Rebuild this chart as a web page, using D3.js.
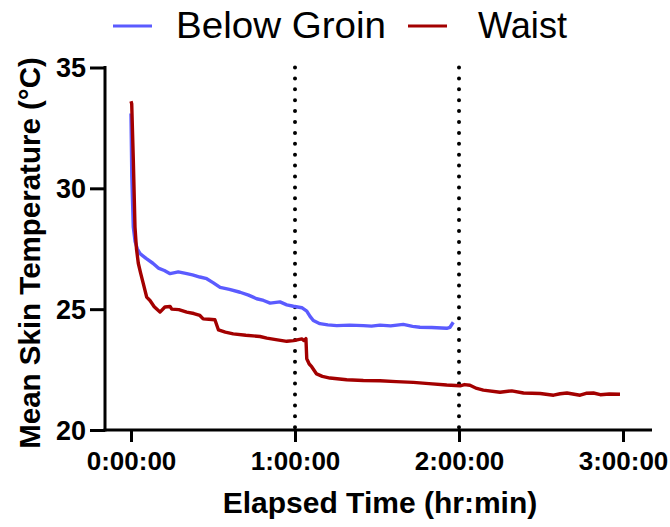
<!DOCTYPE html>
<html>
<head>
<meta charset="utf-8">
<script src="https://cdn.jsdelivr.net/npm/d3@7"></script>
<style>
  html, body { margin: 0; padding: 0; background: #fff; }
  svg { display: block; }
  text { font-family: Arial, "Liberation Sans", sans-serif; }
</style>
</head>
<body>
<svg id="chart" width="670" height="527"></svg>
<script>
// ---- data (elapsed minutes, mean skin temperature °C) ----
const seriesNames = ["Below Groin", "Waist"];
const seriesColors = ["#5b5bff", "#a30000"];

const timeBelowGroin = [0, 0.3, 0.84, 1.5, 2.3, 3.3, 5.5, 8, 10.0, 12.2, 14.3, 17.3, 20, 22.5, 25.2, 27.7, 30, 32.6, 36, 39.9, 43, 46.0, 48.5, 50.9, 54.5, 57, 59.4, 62.5, 64.3, 65.5, 66.7, 69.1, 72, 75.3, 80, 85.0, 88, 91.1, 95, 99.6, 103, 105.7, 110, 115.5, 116.7, 117.9];
const tempBelowGroin = [33.1, 30.5, 28.4, 27.8, 27.5, 27.3, 27.1, 26.9, 26.7, 26.6, 26.47, 26.54, 26.48, 26.42, 26.33, 26.26, 26.1, 25.9, 25.82, 25.7, 25.58, 25.43, 25.36, 25.25, 25.3, 25.18, 25.12, 25.06, 24.92, 24.7, 24.53, 24.4, 24.35, 24.32, 24.34, 24.32, 24.3, 24.34, 24.31, 24.37, 24.29, 24.25, 24.24, 24.21, 24.25, 24.46];

const timeWaist = [0, 0.26, 0.84, 1.46, 2.0, 2.67, 3.5, 4.5, 5.74, 6.95, 8.5, 10.6, 12.4, 14.3, 14.9, 17.5, 20.4, 23, 25.2, 26.4, 28.5, 30.7, 32.0, 34.5, 37.4, 42, 47.2, 49.7, 53, 57.0, 59.5, 62.5, 63.3, 64.0, 64.3, 65.2, 66.1, 67.9, 70, 72.8, 78.9, 85, 91.1, 97, 103.3, 109, 115.5, 120.4, 122, 124.0, 126.5, 128.9, 135.0, 139.3, 143.6, 149.7, 154.6, 157, 159.5, 164.3, 166.5, 169.2, 171.7, 175, 178.9];
const tempWaist = [33.6, 33.5, 31.2, 28.4, 27.5, 26.9, 26.5, 26.06, 25.5, 25.36, 25.1, 24.88, 25.09, 25.11, 25.0, 24.98, 24.88, 24.82, 24.74, 24.6, 24.58, 24.56, 24.14, 24.05, 23.98, 23.92, 23.87, 23.8, 23.74, 23.67, 23.7, 23.77, 23.7, 23.78, 22.95, 22.73, 22.62, 22.32, 22.22, 22.15, 22.08, 22.05, 22.04, 22.0, 21.97, 21.92, 21.86, 21.83, 21.88, 21.85, 21.72, 21.65, 21.56, 21.62, 21.53, 21.51, 21.44, 21.5, 21.53, 21.44, 21.52, 21.53, 21.46, 21.49, 21.48];

const xTickValues = [0, 60, 120, 180];
const xTickLabels = ["0:00:00", "1:00:00", "2:00:00", "3:00:00"];
const yTickValues = [20, 25, 30, 35];
const phaseMarkers = [60, 120];

const xTitle = "Elapsed Time (hr:min)";
const yTitle = "Mean Skin Temperature (°C)";

// ---- layout ----
const svg = d3.select("#chart");
const x = d3.scaleLinear().domain([0, 180]).range([131, 623]);
const y = d3.scaleLinear().domain([20, 35]).range([430, 67.5]);
const axisLeftX = 105;
const axisBottomY = 430;

// dotted phase markers
svg.append("g").selectAll("line").data(phaseMarkers).join("line")
  .attr("x1", d => x(d)).attr("x2", d => x(d))
  .attr("y1", y(35)).attr("y2", axisBottomY)
  .attr("stroke", "#000").attr("stroke-width", 4)
  .attr("stroke-linecap", "round")
  .attr("stroke-dasharray", "0 10.9");

// lines
const series = [
  { t: timeBelowGroin, v: tempBelowGroin },
  { t: timeWaist, v: tempWaist }
];
const line = d3.line().x(d => x(d[0])).y(d => y(d[1])).curve(d3.curveLinear);
series.forEach((s, i) => {
  svg.append("path")
    .datum(s.t.map((t, j) => [t, s.v[j]]))
    .attr("d", line)
    .attr("fill", "none")
    .attr("stroke", seriesColors[i])
    .attr("stroke-width", 3.4)
    .attr("stroke-linejoin", "round");
});

// y axis
const yAxis = d3.axisLeft(y).tickValues(yTickValues).tickSize(15).tickPadding(4).tickFormat(d3.format("d"));
const gy = svg.append("g").attr("transform", `translate(${axisLeftX},0)`).call(yAxis);
gy.select(".domain").remove();
gy.append("line").attr("x1", 0).attr("x2", 0).attr("y1", y(35) - 1.5).attr("y2", axisBottomY + 1.5)
  .attr("stroke", "#000").attr("stroke-width", 3);
gy.selectAll(".tick line").attr("stroke", "#000").attr("stroke-width", 3);
gy.selectAll(".tick text").attr("fill", "#000")
  .style("font-size", "27px").style("font-weight", "bold").attr("dy", "0.35em");

// x axis
const xAxis = d3.axisBottom(x).tickValues(xTickValues).tickSize(12).tickPadding(8)
  .tickFormat((d, i) => xTickLabels[i]);
const gx = svg.append("g").attr("transform", `translate(0,${axisBottomY})`).call(xAxis);
gx.select(".domain").remove();
gx.append("line").attr("x1", axisLeftX - 1.5).attr("x2", 652).attr("y1", 0).attr("y2", 0)
  .attr("stroke", "#000").attr("stroke-width", 3);
gx.selectAll(".tick line").attr("stroke", "#000").attr("stroke-width", 3);
gx.selectAll(".tick text").attr("fill", "#000")
  .style("font-size", "26px").style("font-weight", "bold").attr("dy", "0.75em");

// axis titles
svg.append("text").attr("x", 380).attr("y", 513).attr("text-anchor", "middle")
  .style("font-size", "30px").style("font-weight", "bold").text(xTitle);
svg.append("text").attr("transform", "translate(40,253) rotate(-90)").attr("text-anchor", "middle")
  .style("font-size", "29.5px").style("font-weight", "bold").text(yTitle);

// legend
const legendItems = [
  { lx1: 113, lx2: 152, tx: 176, len: 210 },
  { lx1: 408, lx2: 447, tx: 478, len: 89 }
];
legendItems.forEach((it, i) => {
  svg.append("line").attr("x1", it.lx1).attr("x2", it.lx2).attr("y1", 26).attr("y2", 26)
    .attr("stroke", seriesColors[i]).attr("stroke-width", 3);
  svg.append("text").attr("x", it.tx).attr("y", 38).style("font-size", "36px")
    .attr("textLength", it.len).attr("lengthAdjust", "spacingAndGlyphs")
    .attr("fill", "#000").text(seriesNames[i]);
});
</script>
</body>
</html>
